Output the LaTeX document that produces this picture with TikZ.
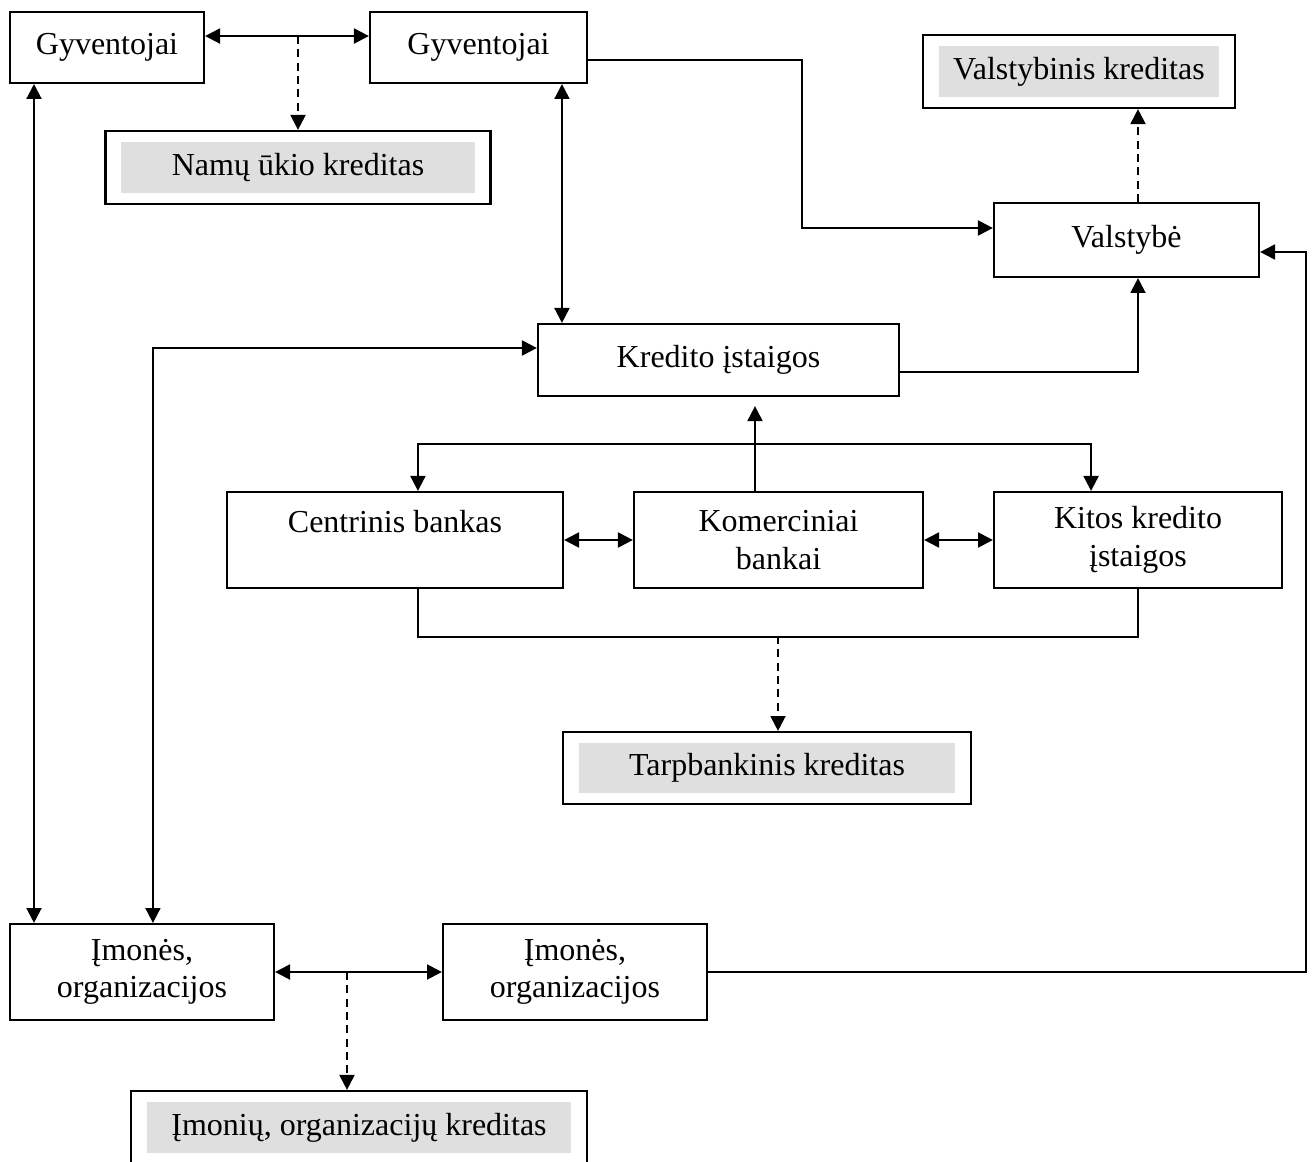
\documentclass[tikz,border=0pt]{standalone}
\usepackage{fontspec}
\setmainfont{Liberation Serif}
\usetikzlibrary{arrows.meta}
\definecolor{creditgray}{RGB}{223,223,223}

\begin{document}
\begin{tikzpicture}[x=0.375pt, y=-0.375pt, line width=0.8pt,
    >={Triangle[length=5.6pt,width=5.6pt]},
    every node/.style={font=\fontsize{12}{14}\selectfont, align=center},
    box/.style={draw, minimum width=#1, minimum height=26.6pt, inner sep=0pt},
    tallbox/.style={draw, minimum width=#1, minimum height=36pt, inner sep=0pt},
    credit/.style={draw, minimum width=#1, minimum height=27.4pt, inner sep=0pt,
      path picture={\fill[creditgray] ([shift={(6pt,-4.3pt)}]path picture bounding box.north west)
        rectangle ([shift={(-6pt,4.1pt)}]path picture bounding box.south east);}},
    dashline/.style={dash pattern=on 3pt off 2pt}]
    \useasboundingbox (0,0) rectangle (1314,1162);

    \node[box=72.75pt] (g1) at (107,47.5) {Gyventojai};
    \node[box=81.4pt] (g2) at (478.5,47.5) {Gyventojai};
    \node[credit=144.4pt] (nuk) at (298,167.5) {Namų ūkio kreditas};
    \node[credit=117pt] (vk) at (1079,71.5) {Valstybinis kreditas};
    \node[box=99.4pt, minimum height=27.75pt] (val) at (1126.5,240) {Valstybė};
    \node[box=135.4pt, minimum height=27pt] (kred) at (718.5,360) {Kredito įstaigos};
    \node[tallbox=126pt] (cb) at (395,540) {Centrinis bankas\\\mbox{}};
    \node[tallbox=108.4pt] (kom) at (778.5,540) {Komerciniai\\bankai};
    \node[tallbox=108pt] (kit) at (1138,540) {Kitos kredito\\įstaigos};
    \node[credit=153pt, minimum height=27pt] (tk) at (767,768) {Tarpbankinis kreditas};
    \node[tallbox=99pt] (im1) at (142,972) {Įmonės,\\organizacijos};
    \node[tallbox=99pt] (im2) at (575,972) {Įmonės,\\organizacijos};
    \node[credit=171pt] (imk) at (359,1127.5) {Įmonių, organizacijų kreditas};

    \coordinate (gg) at (298,36);
    \draw[<->] ([yshift=4.3pt]g1.east) -- ([yshift=4.3pt]g1.east -| g2.west);
    \draw[dashline,->] (gg) -- (nuk.north);
    \draw[<->] ([xshift=9.4pt]g1.south west) -- ([xshift=9.4pt]im1.north west);
    \draw[<->] ([xshift=9.4pt]kred.north west |- g2.south) -- ([xshift=9.4pt]kred.north west);
    \draw[->] ([yshift=-4.7pt]g2.east) -| (802,144) |- ([yshift=4.5pt]val.west);
    \draw[->] ([yshift=-4.5pt]kred.east) -| (kit.north |- val.south);
    \draw[dashline,->] (kit.north |- val.north) -- (kit.north |- vk.south);
    \draw[->] (im2.east) -| (1306,500) |- ([yshift=-4.5pt]val.east);
    \draw[<->] ([xshift=54pt]im1.north west) |- ([yshift=4.5pt]kred.west);

    \coordinate (kb) at (755,444);
    \draw[->, shorten >=3.4pt] (kb |- kom.north) -- (kb |- kred.south);
    \draw[->] (kb) -| ([xshift=8.6pt]cb.north);
    \draw[->] (kb) -| ([xshift=-17.6pt]kit.north);
    \draw[<->] (cb.east) -- (kom.west);
    \draw[<->] (kom.east) -- (kit.west);
    \draw ([xshift=8.6pt]cb.south) -- ++(0,48) -| (kit.south);
    \coordinate (tb) at (778,636);
    \draw[dashline,->] (tb) -- (tb |- tk.north);

    \coordinate (ib) at (347,972);
    \draw[<->] (im1.east) -- (im2.west);
    \draw[dashline,->] (ib) -- (ib |- imk.north);
\end{tikzpicture}
\end{document}
